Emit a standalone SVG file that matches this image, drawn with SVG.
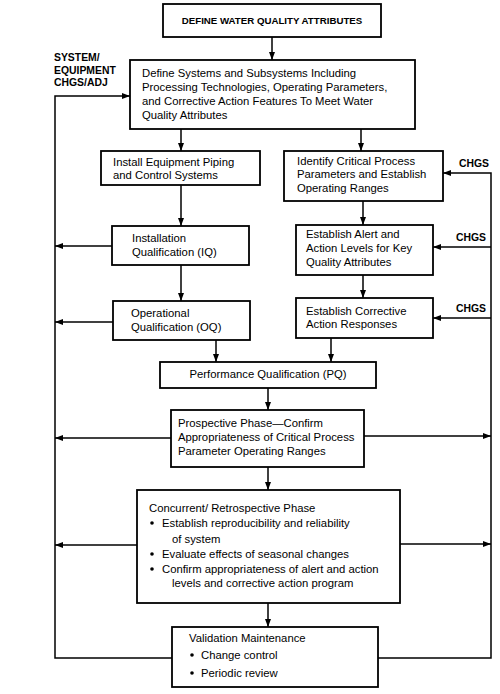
<svg xmlns="http://www.w3.org/2000/svg" width="500" height="694" viewBox="0 0 500 694">
<style>
.box{fill:#fff;stroke:#000;stroke-width:1.8}
.t{font-family:"Liberation Sans",Arial,sans-serif;font-size:11.3px;fill:#000}
.tb{font-family:"Liberation Sans",Arial,sans-serif;font-size:9.7px;font-weight:bold;fill:#000}
.lbl{font-family:"Liberation Sans",Arial,sans-serif;font-size:10.4px;font-weight:bold;fill:#000}
.c{fill:none;stroke:#000;stroke-width:1.5}
.a{marker-end:url(#ah)}
</style>
<defs>
<marker id="ah" markerUnits="userSpaceOnUse" markerWidth="9" markerHeight="7" refX="8" refY="3" orient="auto">
<path d="M0,0 L8,3 L0,6 z" fill="#000"/>
</marker>
</defs>
<rect width="500" height="694" fill="#fff"/>
<g id="connectors">
<line class="c a" x1="272" y1="37" x2="272" y2="60"/>
<polyline class="c a" points="172,658 55,658 55,96 130,96"/>
<polyline class="c a" points="378,658 491,658 491,173 443,173"/>
<line class="c a" x1="491" y1="247" x2="433" y2="247"/>
<line class="c a" x1="491" y1="318" x2="433" y2="318"/>
<line class="c a" x1="181" y1="129" x2="181" y2="151"/>
<line class="c a" x1="361" y1="129" x2="361" y2="151"/>
<line class="c a" x1="181" y1="185" x2="181" y2="226"/>
<line class="c a" x1="112" y1="246" x2="55" y2="246"/>
<line class="c a" x1="363" y1="201" x2="363" y2="225"/>
<line class="c a" x1="181" y1="265" x2="181" y2="301"/>
<line class="c a" x1="113" y1="322" x2="55" y2="322"/>
<line class="c a" x1="363" y1="275" x2="363" y2="298"/>
<line class="c a" x1="216" y1="340" x2="216" y2="362"/>
<line class="c a" x1="331" y1="338" x2="331" y2="362"/>
<line class="c a" x1="268" y1="388" x2="268" y2="410"/>
<line class="c a" x1="171" y1="438" x2="55" y2="438"/>
<line class="c a" x1="364" y1="436" x2="491" y2="436"/>
<line class="c a" x1="268" y1="467" x2="268" y2="490"/>
<line class="c a" x1="137" y1="545" x2="55" y2="545"/>
<line class="c a" x1="400" y1="544" x2="491" y2="544"/>
<line class="c a" x1="268" y1="603" x2="268" y2="627"/>
</g>
<g id="labels">
<text class="lbl" x="54" y="61">SYSTEM/</text>
<text class="lbl" x="54" y="74">EQUIPMENT</text>
<text class="lbl" x="54" y="86">CHGS/ADJ</text>
<text class="lbl" x="459" y="167">CHGS</text>
<text class="lbl" x="456" y="241">CHGS</text>
<text class="lbl" x="456" y="312">CHGS</text>
</g>
<g id="n1">
<rect class="box" x="163" y="4" width="218" height="33"/>
<text class="tb" x="272" y="23.5" text-anchor="middle">DEFINE WATER QUALITY ATTRIBUTES</text>
</g>
<g id="n2">
<rect class="box" x="130" y="60" width="285" height="69"/>
<text class="t" x="142" y="77">Define Systems and Subsystems Including</text>
<text class="t" x="142" y="91">Processing Technologies, Operating Parameters,</text>
<text class="t" x="142" y="105">and Corrective Action Features To Meet Water</text>
<text class="t" x="142" y="119">Quality Attributes</text>
</g>
<g id="n3">
<rect class="box" x="101" y="151" width="159" height="34"/>
<text class="t" x="113" y="166">Install Equipment Piping</text>
<text class="t" x="113" y="179">and Control Systems</text>
</g>
<g id="n4">
<rect class="box" x="284" y="151" width="159" height="50"/>
<text class="t" x="297" y="165">Identify Critical Process</text>
<text class="t" x="297" y="178">Parameters and Establish</text>
<text class="t" x="297" y="192">Operating Ranges</text>
</g>
<g id="n5">
<rect class="box" x="112" y="226" width="137" height="39"/>
<text class="t" x="132" y="242">Installation</text>
<text class="t" x="132" y="256">Qualification (IQ)</text>
</g>
<g id="n6">
<rect class="box" x="296" y="225" width="137" height="50"/>
<text class="t" x="306" y="238">Establish Alert and</text>
<text class="t" x="306" y="252">Action Levels for Key</text>
<text class="t" x="306" y="266">Quality Attributes</text>
</g>
<g id="n7">
<rect class="box" x="113" y="301" width="137" height="39"/>
<text class="t" x="131" y="317">Operational</text>
<text class="t" x="131" y="331">Qualification (OQ)</text>
</g>
<g id="n8">
<rect class="box" x="296" y="298" width="137" height="40"/>
<text class="t" x="306" y="315">Establish Corrective</text>
<text class="t" x="306" y="328">Action Responses</text>
</g>
<g id="n9">
<rect class="box" x="160" y="362" width="216" height="26"/>
<text class="t" x="268" y="378" text-anchor="middle">Performance Qualification (PQ)</text>
</g>
<g id="n10">
<rect class="box" x="171" y="410" width="193" height="57"/>
<text class="t" x="178" y="427">Prospective Phase—Confirm</text>
<text class="t" x="178" y="441">Appropriateness of Critical Process</text>
<text class="t" x="178" y="455">Parameter Operating Ranges</text>
</g>
<g id="n11">
<rect class="box" x="137" y="490" width="263" height="113"/>
<text class="t" x="149" y="512">Concurrent/ Retrospective Phase</text>
<circle cx="152" cy="523" r="1.8"/>
<text class="t" x="162" y="527">Establish reproducibility and reliability</text>
<text class="t" x="172" y="543">of system</text>
<circle cx="152" cy="554" r="1.8"/>
<text class="t" x="162" y="558">Evaluate effects of seasonal changes</text>
<circle cx="152" cy="569" r="1.8"/>
<text class="t" x="162" y="573">Confirm appropriateness of alert and action</text>
<text class="t" x="172" y="587">levels and corrective action program</text>
</g>
<g id="n12">
<rect class="box" x="172" y="627" width="206" height="60"/>
<text class="t" x="189" y="642">Validation Maintenance</text>
<circle cx="192" cy="655" r="1.8"/>
<text class="t" x="201" y="659">Change control</text>
<circle cx="192" cy="673" r="1.8"/>
<text class="t" x="201" y="677">Periodic review</text>
</g>
</svg>
